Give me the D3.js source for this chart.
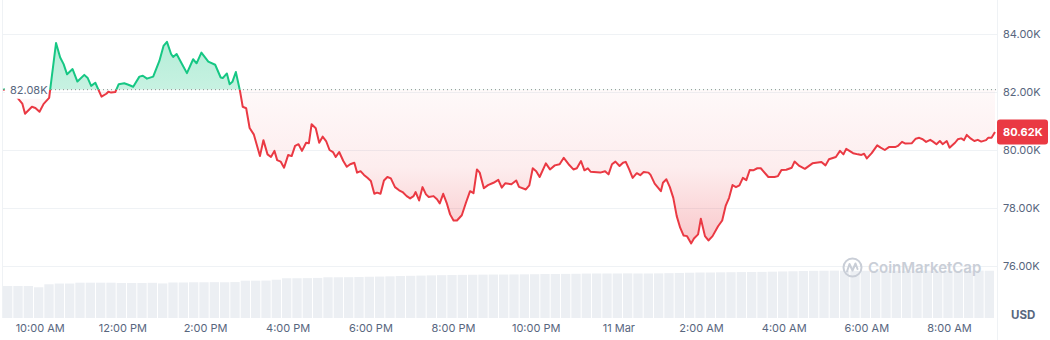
<!DOCTYPE html>
<html>
<head>
<meta charset="utf-8">
<script src="https://cdn.jsdelivr.net/npm/d3@7"></script>
<style>
  body { margin: 0; background: #fff; }
  svg { font-family: Inter, "Noto Sans", sans-serif; display: block; }
</style>
</head>
<body>
<div id="chart"></div>
<script>
// price series: minutes after 9:00 AM on 10 Mar, and price in thousands USD
const startTime = new Date(2025, 2, 10, 9, 0);
const minutes = [
  6,16,34,38,48,53,59,65,73,83,
  89,94,99,107,114,124,129,134,140,149,
  156,159,163,169,174,182,188,195,204,209,
  215,224,233,239,244,250,253,258,266,273,
  282,287,294,304,314,322,325,331,335,339,
  344,350,354,359,364,370,379,384,390,395,
  400,404,409,414,420,425,430,435,440,446,
  450,454,460,465,470,475,480,485,489,494,
  500,505,510,516,520,525,530,535,540,545,
  549,554,559,564,569,575,581,586,592,597,
  602,605,610,615,620,624,631,636,640,645,
  650,655,660,665,672,678,684,689,694,698,
  704,710,718,725,730,735,744,751,755,765,
  770,775,780,785,794,800,807,814,820,827,
  834,839,845,850,855,859,873,880,885,890,
  895,901,906,910,915,920,926,931,936,943,
  946,952,961,964,969,974,979,984,989,994,
  999,1005,1009,1015,1019,1025,1030,1036,1044,1050,
  1055,1060,1065,1070,1075,1080,1085,1090,1095,1101,
  1106,1117,1126,1131,1136,1143,1151,1155,1162,1170,
  1181,1194,1200,1205,1215,1221,1226,1230,1240,1247,
  1252,1256,1260,1267,1275,1280,1286,1292,1301,1305,
  1311,1316,1325,1331,1336,1341,1346,1352,1356,1361,
  1366,1370,1376,1380,1388,1392,1397,1401,1405,1411,
  1416,1421,1426,1433,1436,1441,1446
];
const prices = [
  82.08,82.12,81.60,81.25,81.49,81.45,81.32,81.59,81.80,83.69,
  83.19,82.96,82.61,82.79,82.36,82.59,82.48,82.21,82.32,81.84,
  81.94,82.01,81.98,82.00,82.27,82.30,82.25,82.18,82.53,82.56,
  82.46,82.53,83.07,83.59,83.73,83.31,83.21,83.31,82.96,82.65,
  83.13,82.99,83.36,83.05,82.94,82.50,82.48,82.64,82.27,82.35,
  82.69,82.04,81.49,81.44,80.76,80.54,79.79,80.34,79.85,79.76,
  79.97,79.65,79.60,79.39,79.83,79.79,80.14,80.20,79.97,80.25,
  80.23,80.89,80.75,80.25,80.46,80.31,80.00,79.93,79.76,79.93,
  79.62,79.42,79.51,79.56,79.22,79.27,79.14,79.04,78.93,78.49,
  78.53,78.49,78.95,79.07,79.02,78.72,78.61,78.55,78.41,78.33,
  78.41,78.55,78.26,78.72,78.47,78.38,78.41,78.30,78.16,78.49,
  78.18,77.78,77.57,77.57,77.75,78.18,78.58,78.51,79.33,79.22,
  78.68,78.79,78.87,78.97,78.70,78.85,78.82,78.95,78.73,78.64,
  78.78,79.37,79.27,79.07,79.54,79.33,79.47,79.51,79.73,79.51,
  79.33,79.37,79.62,79.30,79.37,79.25,79.22,79.27,79.16,79.51,
  79.60,79.45,79.56,79.59,79.33,79.04,79.20,79.13,79.24,79.22,
  79.14,78.84,78.58,78.87,78.99,78.72,78.35,77.72,77.32,77.05,
  77.03,76.78,76.95,77.09,77.63,77.03,76.88,77.03,77.37,77.57,
  78.07,78.35,78.79,78.72,78.78,79.04,78.96,79.31,79.30,79.37,
  79.37,79.07,79.07,79.10,79.31,79.32,79.39,79.60,79.45,79.35,
  79.54,79.59,79.47,79.68,79.76,79.97,79.85,80.04,79.89,79.85,
  79.83,79.87,79.71,79.89,80.16,80.08,80.00,80.10,80.10,80.14,
  80.28,80.22,80.23,80.39,80.42,80.37,80.28,80.35,80.29,80.20,
  80.31,80.20,80.31,80.08,80.25,80.37,80.40,80.34,80.52,80.39,
  80.31,80.35,80.29,80.34,80.42,80.42,80.62
];
// volume bars, one every 15 minutes starting 9:06 AM
const volumeStart = 6, volumeStep = 15;
const volumes = [
  30.2,30.2,30.2,29.0,31.8,32.5,32.5,33.3,33.3,33.3,
  33.3,33.0,33.0,33.0,33.2,32.6,33.5,33.5,33.7,33.7,
  33.8,33.7,33.9,35.2,35.2,35.3,36.1,37.5,37.5,37.6,
  37.8,38.4,38.4,38.5,38.7,38.9,39.1,39.3,39.6,39.8,
  40.0,40.2,40.4,40.6,40.7,40.8,40.9,41.0,41.0,41.1,
  41.2,41.3,41.5,41.5,41.6,41.7,41.9,42.0,42.0,42.0,
  42.1,42.0,42.0,42.1,42.3,42.5,42.7,42.9,42.9,43.1,
  43.2,43.3,43.4,43.5,43.7,43.9,44.1,44.3,44.5,44.6,
  44.7,44.6,44.5,44.6,44.6,44.7,44.6,44.5,44.6,44.7,
  44.6,44.6,44.5,44.6,44.7,44.6
];
const priceTicks = [76, 78, 80, 82, 84];

const W = 1050, H = 340;
const plotLeft = 3, plotRight = 997.5, volBottom = 318;
const green = "#16c784", red = "#ea3943", textCol = "#58667e", gridCol = "#eff2f5";

const at = m => new Date(startTime.getTime() + m * 60000);
const data = minutes.map((m, i) => ({ t: at(m), p: prices[i] }));
const base = prices[0];
const last = prices[prices.length - 1];

const x = d3.scaleTime().domain([at(minutes[0]), at(minutes[minutes.length - 1])]).range([plotLeft, 995]);
const y = d3.scaleLinear().domain([76, 84]).range([266, 34]);
const yv = d3.scaleLinear().domain([0, 50]).range([volBottom, 265]);

const svg = d3.select("#chart").append("svg").attr("width", W).attr("height", H);
const defs = svg.append("defs");

const yBase = y(base);

// gradients for the two fills
const gg = defs.append("linearGradient").attr("id", "gGreen")
  .attr("gradientUnits", "userSpaceOnUse").attr("x1", 0).attr("x2", 0)
  .attr("y1", y(d3.max(prices))).attr("y2", yBase);
gg.append("stop").attr("offset", 0).attr("stop-color", green).attr("stop-opacity", 0.32);
gg.append("stop").attr("offset", 1).attr("stop-color", green).attr("stop-opacity", 0.24);
const rg = defs.append("linearGradient").attr("id", "gRed")
  .attr("gradientUnits", "userSpaceOnUse").attr("x1", 0).attr("x2", 0)
  .attr("y1", yBase).attr("y2", y(d3.min(prices)));
rg.append("stop").attr("offset", 0).attr("stop-color", red).attr("stop-opacity", 0.03);
rg.append("stop").attr("offset", 0.5).attr("stop-color", red).attr("stop-opacity", 0.09);
rg.append("stop").attr("offset", 1).attr("stop-color", red).attr("stop-opacity", 0.28);

defs.append("clipPath").attr("id", "above").append("rect")
  .attr("x", 0).attr("y", 0).attr("width", W).attr("height", yBase);
defs.append("clipPath").attr("id", "below").append("rect")
  .attr("x", 0).attr("y", yBase).attr("width", W).attr("height", H - yBase);

// grid
svg.append("g").selectAll("line").data(priceTicks).join("line")
  .attr("x1", plotLeft).attr("x2", plotRight)
  .attr("y1", d => Math.round(y(d)) + 0.5).attr("y2", d => Math.round(y(d)) + 0.5)
  .attr("stroke", gridCol).attr("stroke-width", 1);
svg.append("line").attr("x1", plotRight).attr("x2", plotRight).attr("y1", 0).attr("y2", H)
  .attr("stroke", gridCol);
svg.append("line").attr("x1", plotLeft - 0.5).attr("x2", plotLeft - 0.5).attr("y1", 0).attr("y2", volBottom)
  .attr("stroke", gridCol);

// volume
svg.append("g").selectAll("rect").data(volumes).join("rect")
  .attr("x", (d, i) => x(at(volumeStart + i * volumeStep)))
  .attr("width", (d, i) => x(at(volumeStart + (i + 1) * volumeStep)) - x(at(volumeStart + i * volumeStep)) - 1)
  .attr("y", d => yv(d))
  .attr("height", d => volBottom - yv(d))
  .attr("fill", "#eceff3");

// watermark
const wm = svg.append("g").attr("transform", "translate(852.5,267.5)");
wm.append("circle").attr("r", 9).attr("fill", "none").attr("stroke", "#c9ced7").attr("stroke-width", 2);
wm.append("path").attr("d", "M-5.5,4 L-3,-3.5 L0,3 L3,-4 L5,1.5")
  .attr("fill", "none").attr("stroke", "#c9ced7").attr("stroke-width", 2)
  .attr("stroke-linejoin", "round").attr("stroke-linecap", "round");
svg.append("text").attr("x", 868).attr("y", 273).text("CoinMarketCap")
  .attr("font-size", 15).attr("font-weight", 600).attr("fill", "#c9ced7");

// areas and line
const area = d3.area().x(d => x(d.t)).y0(yBase).y1(d => y(d.p));
const line = d3.line().x(d => x(d.t)).y(d => y(d.p));
svg.append("path").datum(data).attr("d", area).attr("fill", "url(#gGreen)").attr("clip-path", "url(#above)");
svg.append("path").datum(data).attr("d", area).attr("fill", "url(#gRed)").attr("clip-path", "url(#below)");

// baseline (open price)
svg.append("line").attr("x1", plotLeft).attr("x2", plotRight)
  .attr("y1", yBase).attr("y2", yBase)
  .attr("stroke", "#8d8d8d").attr("stroke-width", 1).attr("stroke-dasharray", "1,3");

svg.append("path").datum(data).attr("d", line).attr("fill", "none")
  .attr("stroke", green).attr("stroke-width", 2).attr("stroke-linejoin", "round")
  .attr("clip-path", "url(#above)");
svg.append("path").datum(data).attr("d", line).attr("fill", "none")
  .attr("stroke", red).attr("stroke-width", 2).attr("stroke-linejoin", "round")
  .attr("clip-path", "url(#below)");

// open price label
svg.append("rect").attr("x", 5).attr("y", yBase - 9).attr("width", 43).attr("height", 18)
  .attr("rx", 3).attr("fill", "#fff");
svg.append("text").attr("x", 10).attr("y", yBase).attr("dy", "0.35em")
  .text((base).toFixed(2) + "K").attr("font-size", 11).attr("fill", textCol);

// right axis labels
svg.append("g").selectAll("text").data(priceTicks).join("text")
  .attr("x", 1003).attr("y", d => y(d)).attr("dy", "0.35em")
  .text(d => d.toFixed(2) + "K")
  .attr("font-size", 11).attr("fill", textCol);

// current price tag
svg.append("rect").attr("x", 997).attr("y", y(last) - 12.5).attr("width", 51).attr("height", 25)
  .attr("rx", 3).attr("fill", red);
svg.append("text").attr("x", 1003).attr("y", y(last)).attr("dy", "0.35em")
  .text(last.toFixed(2) + "K").attr("font-size", 11).attr("font-weight", 700).attr("fill", "#fff");

svg.append("text").attr("x", 1011).attr("y", 315).attr("dy", "0.35em").text("USD")
  .attr("font-size", 11.5).attr("font-weight", 700).attr("fill", textCol);

// time axis labels
const fmtTime = d3.timeFormat("%-I:%M %p"), fmtDay = d3.timeFormat("%-d %b");
const timeTicks = x.ticks(d3.timeHour.every(2));
svg.append("g").selectAll("text").data(timeTicks).join("text")
  .attr("x", d => x(d)).attr("y", 328).attr("dy", "0.35em").attr("text-anchor", "middle")
  .text(d => d.getHours() === 0 ? fmtDay(d) : fmtTime(d))
  .attr("font-size", 11).attr("fill", textCol);
</script>
</body>
</html>
